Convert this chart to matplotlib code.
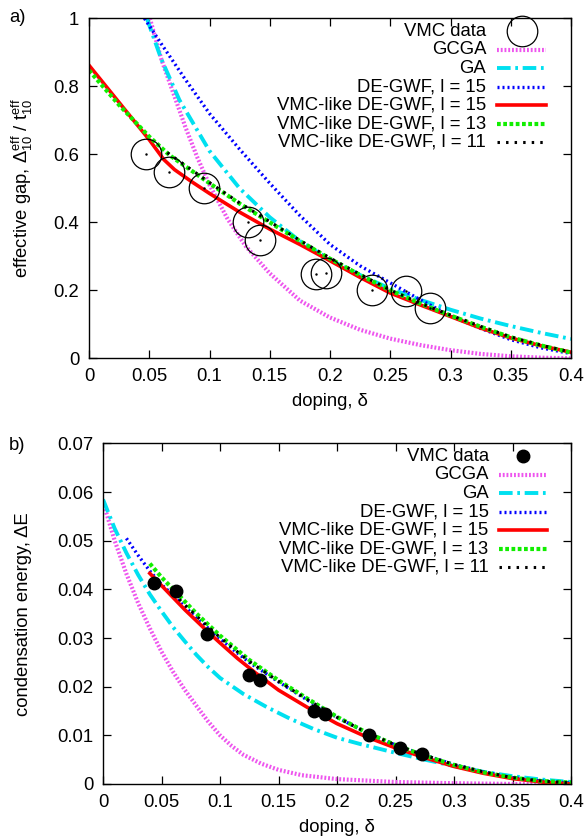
import numpy as np
import matplotlib
matplotlib.use("Agg")
import matplotlib.pyplot as plt
from matplotlib.ticker import FuncFormatter, MultipleLocator

# gnuplot-looking two panel figure: effective gap (a) and condensation energy (b)

plt.rcParams['font.family'] = ['Liberation Sans', 'DejaVu Sans']
plt.rcParams['mathtext.fontset'] = 'custom'
plt.rcParams['mathtext.rm'] = 'Liberation Sans'
plt.rcParams['mathtext.it'] = 'Liberation Sans:italic'
FS = 13.3

# ---------------- panel a) effective gap ----------------
vmc_gap_x = [0.0475, 0.066, 0.0955, 0.132, 0.1415, 0.188, 0.1965, 0.235, 0.263, 0.283]
vmc_gap_y = [0.600, 0.548, 0.501, 0.401, 0.349, 0.249, 0.251, 0.200, 0.198, 0.149]

gcga_gap_x = [0.0505, 0.06, 0.07, 0.08, 0.09, 0.10, 0.115, 0.13, 0.15, 0.175, 0.2,
              0.225, 0.25, 0.275, 0.3, 0.325, 0.35, 0.375, 0.4]
gcga_gap_y = [1.0, 0.88, 0.78, 0.68, 0.59, 0.51, 0.41, 0.33, 0.25, 0.17, 0.12,
              0.084, 0.058, 0.039, 0.024, 0.013, 0.006, 0.002, 0.0]

ga_gap_x = [0.048, 0.06, 0.075, 0.1, 0.125, 0.15, 0.175, 0.2, 0.225, 0.25, 0.275,
            0.3, 0.325, 0.35, 0.375, 0.4]
ga_gap_y = [1.0, 0.88, 0.76, 0.61, 0.50, 0.415, 0.345, 0.29, 0.245, 0.205, 0.172,
            0.143, 0.117, 0.095, 0.075, 0.057]

degwf_gap_x = [0.046, 0.06, 0.08, 0.1, 0.125, 0.15, 0.175, 0.2, 0.225, 0.25, 0.275,
               0.3, 0.325, 0.35, 0.375, 0.4]
degwf_gap_y = [1.0, 0.925, 0.82, 0.72, 0.615, 0.515, 0.42, 0.335, 0.272, 0.222, 0.172,
               0.125, 0.088, 0.055, 0.031, 0.014]

vmc15_gap_x = [0, 0.05, 0.062, 0.071, 0.085, 0.1, 0.125, 0.15, 0.175, 0.2, 0.225,
               0.25, 0.275, 0.3, 0.325, 0.35, 0.375, 0.4]
vmc15_gap_y = [0.862, 0.643, 0.585, 0.555, 0.52, 0.485, 0.43, 0.38, 0.335, 0.287, 0.238,
               0.192, 0.157, 0.123, 0.089, 0.060, 0.037, 0.018]

vmc13_gap_x = [0, 0.025, 0.05, 0.067, 0.1, 0.125, 0.15, 0.175, 0.2, 0.225, 0.25,
               0.275, 0.3, 0.325, 0.35, 0.375, 0.4]
vmc13_gap_y = [0.847, 0.745, 0.652, 0.597, 0.515, 0.455, 0.4, 0.345, 0.293, 0.245, 0.2,
               0.161, 0.126, 0.093, 0.062, 0.038, 0.017]

vmc11_gap_x = [0.065, 0.1, 0.125, 0.15, 0.175, 0.2, 0.225, 0.25, 0.275, 0.3, 0.325,
               0.35, 0.375, 0.4]
vmc11_gap_y = [0.605, 0.517, 0.457, 0.402, 0.347, 0.295, 0.247, 0.201, 0.162, 0.127,
               0.094, 0.063, 0.039, 0.018]

# ---------------- panel b) condensation energy ----------------
vmc_en_x = [0.044, 0.062, 0.089, 0.125, 0.134, 0.180, 0.190, 0.227, 0.254, 0.273]
vmc_en_y = [0.0414, 0.0397, 0.0308, 0.0224, 0.0213, 0.0149, 0.0144, 0.0101, 0.0073, 0.0062]

gcga_en_x = [0, 0.01, 0.02, 0.03, 0.04, 0.05, 0.06, 0.07, 0.08, 0.09, 0.1, 0.11, 0.12,
             0.135, 0.15, 0.17, 0.2, 0.25, 0.3, 0.35, 0.4]
gcga_en_y = [0.058, 0.050, 0.0432, 0.0372, 0.032, 0.0272, 0.023, 0.0193, 0.016, 0.0128,
             0.0100, 0.0078, 0.006, 0.0042, 0.0029, 0.0018, 0.001, 0.0004, 0.00015, 0.0, 0.0]

ga_en_x = [0, 0.01, 0.02, 0.03, 0.04, 0.05, 0.06, 0.07, 0.08, 0.09, 0.1, 0.12, 0.14,
           0.16, 0.18, 0.2, 0.22, 0.25, 0.275, 0.3, 0.325, 0.35, 0.375, 0.4]
ga_en_y = [0.0585, 0.0525, 0.0475, 0.043, 0.039, 0.0355, 0.0322, 0.0293, 0.0265, 0.024,
           0.0218, 0.0185, 0.0158, 0.0134, 0.0113, 0.0095, 0.0082, 0.0064, 0.005, 0.0037,
           0.0025, 0.0016, 0.0009, 0.0004]

degwf_en_x = [0.02, 0.03, 0.04, 0.05, 0.06, 0.07, 0.08, 0.1, 0.125, 0.15, 0.175, 0.2,
              0.225, 0.25, 0.275, 0.3, 0.325, 0.35, 0.375, 0.4]
degwf_en_y = [0.0505, 0.047, 0.0438, 0.041, 0.0388, 0.0364, 0.0342, 0.0298, 0.025, 0.021,
              0.0172, 0.0137, 0.0106, 0.008, 0.0059, 0.004, 0.0025, 0.0013, 0.0006, 0.0002]

vmc15_en_x = [0.04, 0.05, 0.06, 0.07, 0.08, 0.09, 0.1, 0.115, 0.13, 0.15, 0.175, 0.2,
              0.225, 0.25, 0.275, 0.3, 0.325, 0.35, 0.375, 0.4]
vmc15_en_y = [0.0433, 0.0408, 0.0383, 0.0358, 0.0335, 0.0312, 0.029, 0.0258, 0.0229,
              0.0193, 0.0157, 0.0124, 0.0097, 0.0074, 0.0054, 0.0036, 0.0022, 0.0011,
              0.0004, 0.0]

vmc13_en_x = [0.04, 0.05, 0.06, 0.07, 0.08, 0.1, 0.125, 0.15, 0.175, 0.2, 0.225, 0.25,
              0.275, 0.3, 0.325, 0.35, 0.375, 0.4]
vmc13_en_y = [0.0453, 0.0425, 0.04, 0.0375, 0.035, 0.0305, 0.0255, 0.0213, 0.0175,
              0.0138, 0.0106, 0.008, 0.0058, 0.0039, 0.0024, 0.0013, 0.0006, 0.0003]

vmc11_en_x = [0.06, 0.07, 0.08, 0.1, 0.125, 0.15, 0.175, 0.2, 0.225, 0.25, 0.275, 0.3,
              0.325, 0.35, 0.375, 0.4]
vmc11_en_y = [0.0392, 0.0368, 0.0345, 0.0301, 0.0252, 0.0211, 0.0173, 0.0137, 0.0106,
              0.008, 0.0059, 0.004, 0.0025, 0.0013, 0.0006, 0.0002]

legend_labels = ["VMC data", "GCGA", "GA", "DE-GWF, l = 15", "VMC-like DE-GWF, l = 15",
                 "VMC-like DE-GWF, l = 13", "VMC-like DE-GWF, l = 11"]

styles = {
    'gcga': dict(color='#ee55ee', lw=3.0, dashes=(0.45, 0.45)),
    'ga': dict(color='#00e0f0', lw=2.8, dashes=(3.5, 1.2, 0.7, 1.2)),
    'degwf': dict(color='#0000ff', lw=2.4, dashes=(0.6, 0.9)),
    'vmc15': dict(color='#ff0000', lw=2.6, linestyle='-'),
    'vmc13': dict(color='#11ee00', lw=3.0, dashes=(0.9, 0.6)),
    'vmc11': dict(color='#000000', lw=2.2, dashes=(0.8, 2.0)),
}


def fmt(v, pos):
    return "%g" % round(v, 6)


def style_axes(ax, ymax, ystep):
    ax.set_xlim(0, 0.4)
    ax.set_ylim(0, ymax)
    ax.xaxis.set_major_locator(MultipleLocator(0.05))
    ax.yaxis.set_major_locator(MultipleLocator(ystep))
    ax.xaxis.set_major_formatter(FuncFormatter(fmt))
    ax.yaxis.set_major_formatter(FuncFormatter(fmt))
    ax.tick_params(direction='in', top=True, right=True, length=6, width=0.9,
                   labelsize=FS, pad=7)
    for s in ax.spines.values():
        s.set_linewidth(1.0)


def draw_legend(ax, vmc_style):
    y0, dy = 0.962, 0.0543
    xt, xa, xb = 0.824, 0.847, 0.948
    keys = ['gcga', 'ga', 'degwf', 'vmc15', 'vmc13', 'vmc11']
    for i, lab in enumerate(legend_labels):
        y = y0 - i * dy
        ax.text(xt, y, lab, transform=ax.transAxes, ha='right', va='center', fontsize=FS)
        if i == 0:
            ax.plot([(xa + xb) / 2], [y], transform=ax.transAxes, clip_on=False, **vmc_style)
        else:
            ax.plot([xa, xb], [y, y], transform=ax.transAxes, **styles[keys[i - 1]])


fig = plt.figure(figsize=(5.86, 8.39), dpi=100)
ax1 = fig.add_axes([0.1519, 0.5729, 0.8225, 0.4052])
ax2 = fig.add_axes([0.1758, 0.0656, 0.7986, 0.4058])

# panel a
ax1.plot(gcga_gap_x, gcga_gap_y, **styles['gcga'])
ax1.plot(ga_gap_x, ga_gap_y, **styles['ga'])
ax1.plot(degwf_gap_x, degwf_gap_y, **styles['degwf'])
ax1.plot(vmc15_gap_x, vmc15_gap_y, **styles['vmc15'])
ax1.plot(vmc13_gap_x, vmc13_gap_y, **styles['vmc13'])
ax1.plot(vmc11_gap_x, vmc11_gap_y, **styles['vmc11'])
open_circle = dict(marker='o', ms=22, mfc='none', mec='black', mew=0.9, linestyle='none')
ax1.plot(vmc_gap_x, vmc_gap_y, **open_circle)
ax1.plot(vmc_gap_x, vmc_gap_y, marker='.', ms=1.5, color='black', linestyle='none')
style_axes(ax1, 1.0, 0.2)
ax1.set_xlabel("doping, δ", fontsize=FS, labelpad=6)
ax1.set_ylabel(r"effective gap, $\mathrm{\Delta^{eff}_{10}}$ / $\mathrm{t^{eff}_{10}}$",
               fontsize=FS)
ax1.yaxis.set_label_coords(-0.112, 0.5)
draw_legend(ax1, open_circle)

# panel b
ax2.plot(gcga_en_x, gcga_en_y, **styles['gcga'])
ax2.plot(ga_en_x, ga_en_y, **styles['ga'])
ax2.plot(degwf_en_x, degwf_en_y, **styles['degwf'])
ax2.plot(vmc15_en_x, vmc15_en_y, **styles['vmc15'])
ax2.plot(vmc13_en_x, vmc13_en_y, **styles['vmc13'])
ax2.plot(vmc11_en_x, vmc11_en_y, **styles['vmc11'])
filled_circle = dict(marker='o', ms=9, mfc='black', mec='black', linestyle='none')
ax2.plot(vmc_en_x, vmc_en_y, **filled_circle)
style_axes(ax2, 0.07, 0.01)
ax2.set_xlabel("doping, δ", fontsize=FS, labelpad=6)
ax2.set_ylabel("condensation energy, ΔE", fontsize=FS)
ax2.yaxis.set_label_coords(-0.152, 0.5)
draw_legend(ax2, filled_circle)

fig.text(9 / 586, 1 - 18 / 839, "a)", fontsize=FS, ha='left', va='center')
fig.text(9 / 586, 1 - 446 / 839, "b)", fontsize=FS, ha='left', va='center')

fig.savefig('out.png', dpi=100)
